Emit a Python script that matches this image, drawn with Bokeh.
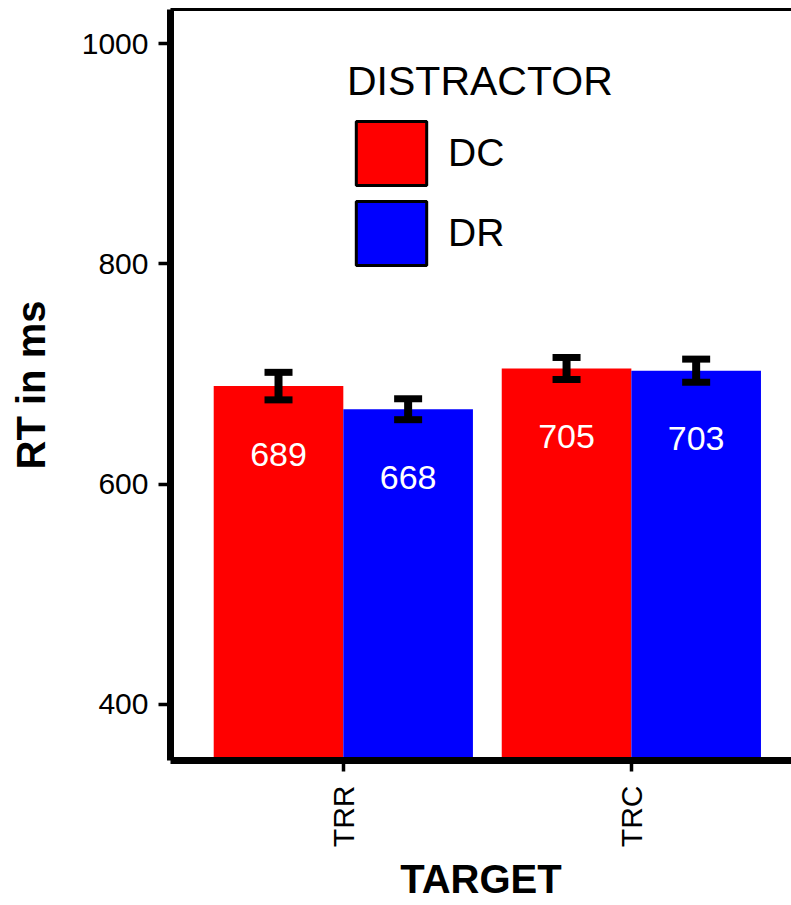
import numpy as np
from bokeh.plotting import figure
from bokeh.models import (ColumnDataSource, Range1d, FixedTicker, Whisker, TeeHead,
                          Legend, LegendItem, LinearAxis)
from bokeh.core.properties import value
from bokeh.embed import file_html
from bokeh.resources import INLINE

# ---- data ----
targets = ["TRR", "TRC"]
distractors = ["DC", "DR"]
dc_rt = [689, 705]
dr_rt = [668, 703]
dc_se = [12.5, 10.0]
dr_se = [9.5, 10.5]
dist_colors = ["#FF0000", "#0000FF"]
y_ticks = [400, 600, 800, 1000]

FONT = "Liberation Sans"

p = figure(width=791, height=905,
           x_range=Range1d(0.4, 2.556), y_range=Range1d(349, 1031),
           output_backend="svg", toolbar_location=None,
           min_border_left=170, min_border_right=0, min_border_top=9,
           min_border_bottom=145)
p.xgrid.visible = False
p.ygrid.visible = False
p.outline_line_color = None
p.background_fill_color = "white"

xa = p.below[0]
ya = p.left[0]

base = np.arange(1, len(targets) + 1)
bar_w = 0.45
legend_items = []
for i, (d, vals, errs, col) in enumerate(zip(distractors, [dc_rt, dr_rt],
                                              [dc_se, dr_se], dist_colors)):
    xs = base + (i - 0.5) * bar_w
    vals = np.array(vals, dtype=float)
    errs = np.array(errs, dtype=float)
    src = ColumnDataSource(dict(x=xs, top=vals, upper=vals + errs, lower=vals - errs,
                                label=[str(int(v)) for v in vals], ly=vals - 62))
    p.vbar(x="x", top="top", bottom=0, width=bar_w, source=src,
           fill_color=col, line_color=None)
    w = Whisker(base="x", upper="upper", lower="lower", source=src,
                line_width=8, line_color="black", level="annotation",
                upper_head=TeeHead(size=28, line_width=7, line_color="black"),
                lower_head=TeeHead(size=28, line_width=7, line_color="black"))
    p.add_layout(w)
    p.text(x="x", y="ly", text="label", source=src, text_color="white",
           text_font=value(FONT), text_font_size="34px",
           text_align="center", text_baseline="middle")
    # legend key renderer (a single undrawn NaN bar, so the key has a black outline)
    r = p.vbar(x=[np.nan], top=[np.nan], bottom=[np.nan], width=bar_w,
               fill_color=col, line_color="black", line_width=3)
    legend_items.append(LegendItem(label=d, renderers=[r]))

legend = Legend(items=legend_items, title="DISTRACTOR", location=(177, 487),
                glyph_width=88, glyph_height=80, spacing=0, padding=0, margin=0,
                label_standoff=13, label_text_font=FONT, label_text_font_size="39px",
                label_text_color="black",
                title_text_font=FONT, title_text_font_size="41px",
                title_text_font_style="normal", title_text_color="black",
                title_standoff=8,
                border_line_color=None, background_fill_alpha=0)
p.add_layout(legend)

# top border line of the panel (no ticks, no labels)
top_axis = LinearAxis(ticker=FixedTicker(ticks=[]), axis_line_width=3,
                      axis_line_color="black", major_tick_line_color=None,
                      minor_tick_line_color=None, major_label_text_font_size="0px",
                      major_label_standoff=0, major_tick_out=0, major_tick_in=0)
p.add_layout(top_axis, "above")

# x axis
xa.ticker = FixedTicker(ticks=list(base))
xa.major_label_overrides = {int(b): t for b, t in zip(base, targets)}
xa.major_label_orientation = np.pi / 2
xa.major_label_text_font = FONT
xa.major_label_text_font_size = "30px"
xa.major_label_text_color = "black"
xa.major_label_standoff = 14
xa.axis_line_width = 7
xa.axis_line_color = "black"
xa.major_tick_line_width = 3.5
xa.major_tick_out = 11
xa.major_tick_in = 0
xa.minor_tick_line_color = None
xa.axis_label = "TARGET"
xa.axis_label_text_font = FONT
xa.axis_label_text_font_size = "40px"
xa.axis_label_text_font_style = "bold"
xa.axis_label_text_color = "black"
xa.axis_label_standoff = 7

# y axis
ya.ticker = FixedTicker(ticks=y_ticks)
ya.major_label_text_font = FONT
ya.major_label_text_font_size = "30px"
ya.major_label_text_color = "black"
ya.major_label_standoff = 10
ya.axis_line_width = 7
ya.axis_line_color = "black"
ya.major_tick_line_width = 3.5
ya.major_tick_out = 12
ya.major_tick_in = 0
ya.minor_tick_line_color = None
ya.axis_label = "RT in ms"
ya.axis_label_text_font = FONT
ya.axis_label_text_font_size = "40px"
ya.axis_label_text_font_style = "bold"
ya.axis_label_text_color = "black"
ya.axis_label_standoff = 26

open("out.html", "w").write(file_html(p, INLINE))
